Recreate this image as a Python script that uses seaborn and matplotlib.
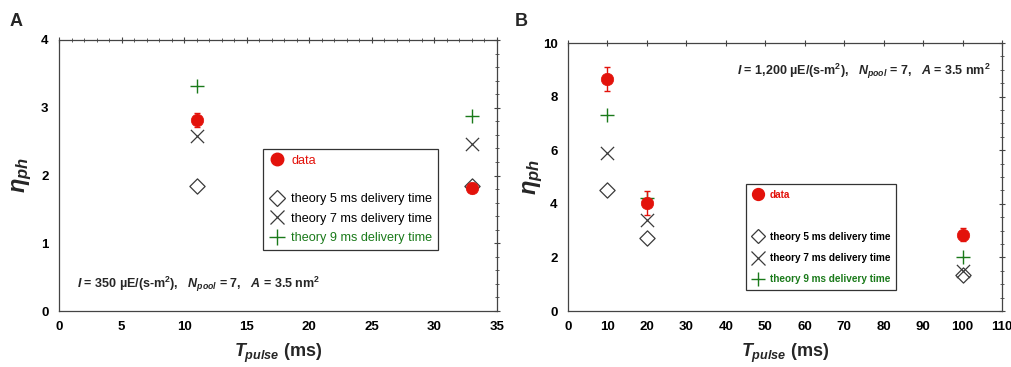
import numpy as np
import pandas as pd
import matplotlib
matplotlib.use("Agg")
import matplotlib.pyplot as plt
from matplotlib.lines import Line2D
from matplotlib.ticker import MultipleLocator
import seaborn as sns

# panel A values (I = 350)
a_pulse = [11, 33]
a_data = [2.82, 1.82]
a_err = [0.10, 0.05]
a_theory5 = [1.85, 1.85]
a_theory7 = [2.58, 2.47]
a_theory9 = [3.32, 2.88]

# panel B values (I = 1,200)
b_pulse = [10, 20, 100]
b_data = [8.65, 4.02, 2.85]
b_err = [0.45, 0.45, 0.25]
b_theory5 = [4.50, 2.72, 1.35]
b_theory7 = [5.90, 3.40, 1.50]
b_theory9 = [7.30, 4.20, 2.00]

labels = ["data", "theory 5 ms delivery time", "theory 7 ms delivery time",
          "theory 9 ms delivery time"]

sns.set_style("white")
plt.rcParams["font.family"] = ["Liberation Sans", "DejaVu Sans"]
plt.rcParams["mathtext.fontset"] = "custom"
plt.rcParams["mathtext.rm"] = "Liberation Sans:bold"
plt.rcParams["mathtext.it"] = "Liberation Sans:bold:italic"
plt.rcParams["mathtext.bf"] = "Liberation Sans:bold"

RED = "#e3120b"
GREEN = "#1a7a1a"
GREY = "#3a3a3a"

fig = plt.figure(figsize=(10.11, 3.67), dpi=100)
axA = fig.add_axes([59 / 1011, 1 - 311 / 367, 438 / 1011, 271 / 367])
axB = fig.add_axes([568 / 1011, 1 - 311 / 367, 434 / 1011, 268 / 367])


def draw(ax, x, data, err, t5, t7, t9):
    sns.scatterplot(x=x, y=t5, ax=ax, marker="D", s=60, facecolor="white",
                    edgecolor=GREY, linewidth=0.9, zorder=3)
    sns.scatterplot(x=x, y=t7, ax=ax, marker="x", s=90, color=GREY,
                    linewidth=0.9, zorder=3)
    sns.scatterplot(x=x, y=t9, ax=ax, marker="+", s=100, color=GREEN,
                    linewidth=1.0, zorder=3)
    ax.errorbar(x, data, yerr=err, fmt="none", ecolor=RED, elinewidth=1.0,
                capsize=2.5, capthick=1.0, zorder=4)
    sns.scatterplot(x=x, y=data, ax=ax, marker="o", s=80, color=RED,
                    edgecolor=RED, linewidth=0.5, zorder=5)


draw(axA, a_pulse, a_data, a_err, a_theory5, a_theory7, a_theory9)
draw(axB, b_pulse, b_data, b_err, b_theory5, b_theory7, b_theory9)

axA.set_xlim(0, 35)
axA.set_ylim(0, 4)
axA.xaxis.set_major_locator(MultipleLocator(5))
axA.xaxis.set_minor_locator(MultipleLocator(1))
axA.yaxis.set_major_locator(MultipleLocator(1))
axA.yaxis.set_minor_locator(MultipleLocator(0.2))

axB.set_xlim(0, 110)
axB.set_ylim(0, 10)
axB.xaxis.set_major_locator(MultipleLocator(10))
axB.yaxis.set_major_locator(MultipleLocator(2))
axB.yaxis.set_minor_locator(MultipleLocator(0.5))

for ax, lx in ((axA, -0.056), (axB, -0.053)):
    for sp in ax.spines.values():
        sp.set_visible(True)
        sp.set_color("#444444")
        sp.set_linewidth(0.9)
    ax.tick_params(which="both", direction="inout", top=True, right=True,
                   colors="#444444", labelcolor="black")
    ax.tick_params(which="major", length=5, width=0.8, labelsize=9.5, pad=5)
    ax.tick_params(which="minor", length=3, width=0.6)
    for lab in ax.get_xticklabels() + ax.get_yticklabels():
        lab.set_fontweight("bold")
    ax.set_xlabel(r"$T_{pulse}$ (ms)", fontsize=13, fontweight="bold", labelpad=6)
    ax.set_ylabel(r"$\eta_{ph}$", fontsize=17)
    ax.yaxis.set_label_coords(lx, 0.5)

# legends with an empty row after "data"
def make_legend(ax, loc, fontsize, weight, rowspace, msize, pad):
    handles = [
        Line2D([], [], marker="o", ls="", color=RED, markersize=9 * msize),
        Line2D([], [], ls="", marker=""),
        Line2D([], [], marker="D", ls="", mfc="white", mec=GREY,
               markersize=8 * msize, mew=0.9),
        Line2D([], [], marker="x", ls="", color=GREY, markersize=10 * msize, mew=0.9),
        Line2D([], [], marker="+", ls="", color=GREEN, markersize=11 * msize, mew=1.0),
    ]
    names = [labels[0], ""] + labels[1:]
    leg = ax.legend(handles, names, loc="upper left", bbox_to_anchor=loc,
                    frameon=True, fancybox=False, edgecolor="#333333",
                    framealpha=1, handletextpad=0.5, labelspacing=rowspace,
                    borderpad=pad, handlelength=1.3, borderaxespad=0,
                    prop={"size": fontsize, "weight": weight})
    leg.get_frame().set_linewidth(0.9)
    cols = [RED, "black", "black", "black", GREEN]
    for t, c in zip(leg.get_texts(), cols):
        t.set_color(c)
    return leg


make_legend(axA, ((263 - 59) / 438, (311 - 149) / 271), 9.1, "normal", 0.58, 1.0, 0.45)
make_legend(axB, ((746 - 568) / 434, (311 - 184) / 268), 7.2, "bold", 1.12, 0.95, 0.55)

axA.text(0.04, 0.1, r"$I$ = 350 µE/(s-m$^2$),   $N_{pool}$ = 7,   $A$ = 3.5 nm$^2$",
         transform=axA.transAxes, fontsize=9, fontweight="bold", ha="left", va="center")
axB.text(0.975, 0.895, r"$I$ = 1,200 µE/(s-m$^2$),   $N_{pool}$ = 7,   $A$ = 3.5 nm$^2$",
         transform=axB.transAxes, fontsize=9, fontweight="bold", ha="right", va="center")

fig.text(10 / 1011, 1 - 22 / 367, "A", fontsize=13, fontweight="bold", va="center")
fig.text(515 / 1011, 1 - 22 / 367, "B", fontsize=13, fontweight="bold", va="center")

fig.savefig("out.png", dpi=100)
